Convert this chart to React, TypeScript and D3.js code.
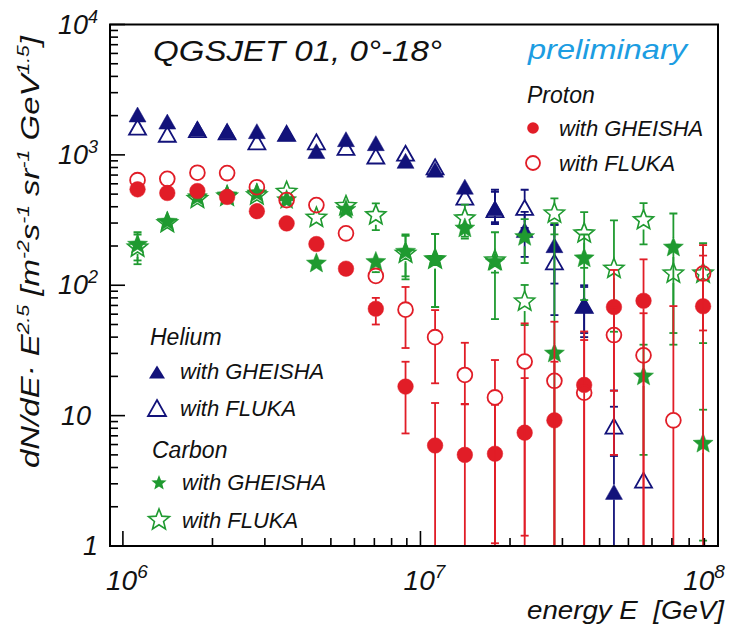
import React from 'react';
import * as d3 from 'd3';

// Energy bin centres (GeV), 0.1 in log10 E
const energies = [1.12e6, 1.41e6, 1.78e6, 2.24e6, 2.82e6, 3.55e6, 4.47e6, 5.62e6, 7.08e6, 8.91e6,
  1.12e7, 1.41e7, 1.78e7, 2.24e7, 2.82e7, 3.55e7, 4.47e7, 5.62e7, 7.08e7, 8.91e7];

// dN/dE * E^2.5 per bin; null = empty bin. Errors are [down, up].
const protonGheisha = [544, 510, 528, 476, 370, 298, 207, 134, 66, 16.7, 5.9, 5.0, 5.1, 7.4, 9.2, 17.2, 68, 76, null, 69];
const protonGheishaErr = [[15, 15], [15, 15], [15, 15], [14, 14], [12, 12], [10, 10], [8, 8], [8, 8], [16, 14], [9.4, 9.2],
  [6, 6.6], [5, 7.3], [5.1, 7], [7.4, 12], [9.2, 16.7], [17.2, 27], [63, 63], [76, 82], [0, 0], [69, 100]];

const protonFluka = [640, 655, 730, 725, 565, 450, 412, 250, 118, 65, 40, 20.5, 13.8, 26, 18.5, 15, 41.5, 29, 9.2, 123];
const protonFlukaErr = [[15, 15], [15, 15], [15, 15], [15, 15], [14, 14], [12, 12], [12, 12], [12, 12], [15, 15], [32, 32],
  [22.3, 24.5], [8.3, 15.7], [12.75, 12.9], [24.8, 25], [18.5, 34], [15, 23], [26, 26], [29, 32], [9.2, 60], [78, 80]];

const heliumGheisha = [2040, 1800, 1590, 1520, 1520, 1460, 1070, 1320, 1230, 900, 770, 570, 390, 265, 203, 70, 2.6, null, null, null];
const heliumGheishaErr = [[40, 40], [40, 40], [40, 40], [40, 40], [40, 40], [40, 40], [35, 35], [40, 40], [40, 40], [35, 35],
  [35, 35], [30, 30], [85, 150], [100, 100], [100, 87], [30, 30], [2.6, 13], [0, 0], [0, 0], [0, 0]];

const heliumFluka = [1630, 1440, 1560, 1500, 1260, 1460, 1260, 1140, 980, 1030, 810, 475, 380, 395, 151, 70, 8.3, 3.2, null, null];
const heliumFlukaErr = [[40, 40], [40, 40], [40, 40], [40, 40], [40, 40], [40, 40], [35, 35], [40, 40], [40, 40], [35, 35],
  [35, 35], [30, 30], [85, 140], [120, 145], [92, 140], [27, 27], [3.4, 3.4], [0.4, 0.4], [0, 0], [0, 0]];

const carbonGheisha = [205, 307, 475, 490, 507, 450, 147, 380, 151, 181, 158, 273, 151, 235, 30, 161, null, 20, 195, 6.1];
const carbonGheishaErr = [[50, 50], [25, 25], [20, 20], [20, 20], [20, 20], [20, 20], [12, 12], [20, 20], [25, 25], [64, 64],
  [90, 90], [45, 45], [26, 26], [87, 87], [30, 270], [84, 84], [0, 0], [15, 15], [160, 160], [5, 5]];

const carbonFluka = [195, 300, 460, 480, 490, 521, 330, 405, 345, 175, 158, 326, 155, 75, 355, 250, 134, 316, 123, 123];
const carbonFlukaErr = [[50, 50], [25, 25], [20, 20], [20, 20], [20, 20], [20, 20], [15, 15], [20, 20], [80, 80], [64, 64],
  [90, 90], [90, 90], [100, 100], [25.5, 25.5], [109, 109], [114, 114], [90, 180], [110, 110], [80, 80], [87, 87]];

const yTickLabels = [
  { v: 1, base: '1', exp: '' },
  { v: 10, base: '10', exp: '' },
  { v: 100, base: '10', exp: '2' },
  { v: 1000, base: '10', exp: '3' },
  { v: 10000, base: '10', exp: '4' },
];
const xTickLabels = [
  { v: 1e6, base: '10', exp: '6' },
  { v: 1e7, base: '10', exp: '7' },
  { v: 1e8, base: '10', exp: '8' },
];

const RED = '#e11d27';
const NAVY = '#12127a';
const GREEN = '#1f9a30';
const SKY = '#1c9de2';
const FONT = '"Liberation Sans", Arial, Helvetica, sans-serif';

const W = 739;
const H = 628;
const frame = { left: 110, right: 718, top: 24.5, bottom: 546 };

const x = d3.scaleLog().domain([9.05e5, 1e8]).range([frame.left, frame.right]);
const y = d3.scaleLog().domain([1, 1e4]).range([frame.bottom, frame.top]);

type Shape = 'circle' | 'triangle' | 'star';

type Series = {
  key: string;
  values: (number | null)[];
  errs: number[][];
  color: string;
  shape: Shape;
  filled: boolean;
};

// drawing order: helium, carbon, proton (protons end up on top)
const series: Series[] = [
  { key: 'heG', values: heliumGheisha, errs: heliumGheishaErr, color: NAVY, shape: 'triangle', filled: true },
  { key: 'heF', values: heliumFluka, errs: heliumFlukaErr, color: NAVY, shape: 'triangle', filled: false },
  { key: 'cG', values: carbonGheisha, errs: carbonGheishaErr, color: GREEN, shape: 'star', filled: true },
  { key: 'cF', values: carbonFluka, errs: carbonFlukaErr, color: GREEN, shape: 'star', filled: false },
  { key: 'pG', values: protonGheisha, errs: protonGheishaErr, color: RED, shape: 'circle', filled: true },
  { key: 'pF', values: protonFluka, errs: protonFlukaErr, color: RED, shape: 'circle', filled: false },
];

function starPath(cx: number, cy: number, outer: number, inner: number) {
  const pts: string[] = [];
  for (let k = 0; k < 10; k++) {
    const r = k % 2 === 0 ? outer : inner;
    const a = -Math.PI / 2 + (k * Math.PI) / 5;
    pts.push(`${(cx + r * Math.cos(a)).toFixed(2)},${(cy + r * Math.sin(a)).toFixed(2)}`);
  }
  return `M${pts.join('L')}Z`;
}

function trianglePath(cx: number, cy: number, w: number, h: number) {
  return `M${cx},${cy - h / 2}L${cx + w / 2},${cy + h / 2}L${cx - w / 2},${cy + h / 2}Z`;
}

function Marker(props: { shape: Shape; filled: boolean; color: string; cx: number; cy: number }) {
  const { shape, filled, color, cx, cy } = props;
  const fill = filled ? color : 'none';
  const sw = 1.8;
  if (shape === 'circle') {
    return <circle cx={cx} cy={cy} r={filled ? 7.8 : 7.4} fill={fill} stroke={color} strokeWidth={filled ? 0.5 : sw} />;
  }
  if (shape === 'triangle') {
    return <path d={trianglePath(cx, cy, 17, 15)} fill={fill} stroke={color} strokeWidth={filled ? 0.5 : sw} strokeLinejoin="miter" />;
  }
  return <path d={starPath(cx, cy, 10.5, 4.6)} fill={fill} stroke={color} strokeWidth={filled ? 0.5 : 1.6} strokeLinejoin="miter" />;
}

const gapFor: Record<Shape, number> = { circle: 7.5, triangle: 7.5, star: 9.5 };

function ErrorBars({ s }: { s: Series }) {
  const capHalf = 4;
  const items: React.ReactNode[] = [];
  s.values.forEach((v, i) => {
    if (v == null) return;
    const [lo, hi] = s.errs[i];
    const cx = x(energies[i]);
    const cy = y(v);
    const gap = gapFor[s.shape];
    const yTop = Math.max(y(v + hi), frame.top);
    const clampedLow = v - lo <= 1;
    const yBot = clampedLow ? frame.bottom : y(v - lo);
    if (cy - gap > yTop + 0.5) {
      items.push(<line key={`u${i}`} x1={cx} x2={cx} y1={cy - gap} y2={yTop} />);
      items.push(<line key={`uc${i}`} x1={cx - capHalf} x2={cx + capHalf} y1={yTop} y2={yTop} />);
    }
    if (yBot > cy + gap + 0.5) {
      items.push(<line key={`d${i}`} x1={cx} x2={cx} y1={cy + gap} y2={yBot} />);
      if (!clampedLow) items.push(<line key={`dc${i}`} x1={cx - capHalf} x2={cx + capHalf} y1={yBot} y2={yBot} />);
    }
  });
  return <g stroke={s.color} strokeWidth={1.8}>{items}</g>;
}

export default function App() {
  const yTicks = y.ticks();
  const xTicks = x.ticks();
  const isMajor = (v: number) => Math.abs(Math.log10(v) - Math.round(Math.log10(v))) < 1e-6;

  return (
    <svg width={W} height={H} viewBox={`0 0 ${W} ${H}`} style={{ position: 'absolute', left: 0, top: 0, background: '#fff' }} fontFamily={FONT}>
      <defs>
        <clipPath id="plot-area">
          <rect x={frame.left} y={frame.top} width={frame.right - frame.left} height={frame.bottom - frame.top} />
        </clipPath>
      </defs>
      <rect x={0} y={0} width={W} height={H} fill="#fff" />

      {/* data */}
      <g clipPath="url(#plot-area)">
        {series.map((s) => (
          <g key={s.key}>
            <ErrorBars s={s} />
            {s.values.map((v, i) =>
              v == null ? null : (
                <Marker key={i} shape={s.shape} filled={s.filled} color={s.color} cx={x(energies[i])} cy={y(v)} />
              )
            )}
          </g>
        ))}
      </g>

      {/* axis ticks */}
      <g stroke="#000" strokeWidth={1.6}>
        {yTicks.map((t) => {
          const len = isMajor(t) ? 15 : 8;
          return <line key={`yt${t}`} x1={frame.left} x2={frame.left + len} y1={y(t)} y2={y(t)} />;
        })}
        {xTicks.map((t) => {
          const len = isMajor(t) ? 15 : 8;
          return <line key={`xt${t}`} x1={x(t)} x2={x(t)} y1={frame.bottom} y2={frame.bottom - len} />;
        })}
      </g>

      {/* frame */}
      <rect x={frame.left} y={frame.top} width={frame.right - frame.left} height={frame.bottom - frame.top}
        fill="none" stroke="#000" strokeWidth={2} />

      {/* y tick labels */}
      <g fontStyle="italic" fontSize={27} fill="#111">
        {yTickLabels.map((l) => (
          <text key={`yl${l.v}`} x={l.base === '10' && !l.exp ? 91 : 98} y={y(l.v) + 9} textAnchor="end">
            {l.base}
            {l.exp && <tspan dy={-11} fontSize={18}>{l.exp}</tspan>}
          </text>
        ))}
      </g>

      {/* x tick labels */}
      <g fontStyle="italic" fontSize={28} fill="#111">
        {xTickLabels.map((l) => {
          const cx = Math.min(x(l.v) + 4, 704);
          return (
            <text key={`xl${l.v}`} x={cx} y={590} textAnchor="middle">
              {l.base}
              <tspan dy={-12} fontSize={19}>{l.exp}</tspan>
            </text>
          );
        })}
      </g>

      {/* axis titles */}
      <text x={527} y={619} fontStyle="italic" fontSize={26} fill="#111" xmlSpace="preserve"
        textLength={197} lengthAdjust="spacingAndGlyphs">energy E  [GeV]</text>
      <text transform="translate(39,252) rotate(-90)" textAnchor="middle" fontStyle="italic" fontSize={25} fill="#111"
        xmlSpace="preserve" textLength={432} lengthAdjust="spacingAndGlyphs">
        dN/dE· E<tspan dy={-10} fontSize={16}>2.5</tspan>
        <tspan dy={10}> [m</tspan><tspan dy={-10} fontSize={16}>-2</tspan>
        <tspan dy={10}>s</tspan><tspan dy={-10} fontSize={16}>-1</tspan>
        <tspan dy={10}> sr</tspan><tspan dy={-10} fontSize={16}>-1</tspan>
        <tspan dy={10}> GeV</tspan><tspan dy={-10} fontSize={16}>1.5</tspan>
        <tspan dy={10}>]</tspan>
      </text>

      {/* headline texts */}
      <text x={153} y={61} fontStyle="italic" fontSize={30} fill="#111" textLength={289} lengthAdjust="spacingAndGlyphs">QGSJET 01, 0°-18°</text>
      <text x={528} y={59} fontStyle="italic" fontSize={28} fill={SKY} textLength={159} lengthAdjust="spacingAndGlyphs">preliminary</text>

      {/* legend */}
      <g fontStyle="italic" fill="#111">
        <text x={527} y={103} fontSize={23}>Proton</text>
        <circle cx={533} cy={128} r={5.8} fill={RED} />
        <text x={559} y={136} fontSize={22}>with GHEISHA</text>
        <circle cx={533} cy={163} r={7} fill="none" stroke={RED} strokeWidth={1.8} />
        <text x={559} y={171} fontSize={22}>with FLUKA</text>

        <text x={150} y={345} fontSize={23}>Helium</text>
        <path d={trianglePath(157, 372, 16, 13)} fill={NAVY} />
        <text x={180} y={379} fontSize={22}>with GHEISHA</text>
        <path d={trianglePath(157, 408, 18, 16)} fill="none" stroke={NAVY} strokeWidth={1.8} />
        <text x={180} y={416} fontSize={22}>with FLUKA</text>

        <text x={152} y={458} fontSize={23}>Carbon</text>
        <path d={starPath(159, 483, 8, 3.5)} fill={GREEN} />
        <text x={182} y={490} fontSize={22}>with GHEISHA</text>
        <path d={starPath(159, 520, 11, 4.8)} fill="none" stroke={GREEN} strokeWidth={1.6} />
        <text x={182} y={528} fontSize={22}>with FLUKA</text>
      </g>
    </svg>
  );
}
